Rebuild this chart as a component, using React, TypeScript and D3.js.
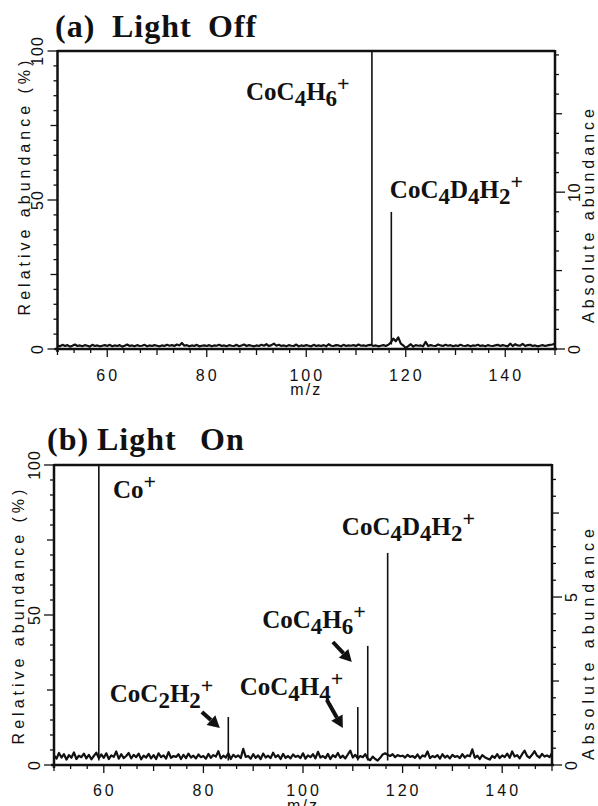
import React from "react"
import * as d3 from "d3"

// sampled baseline (noise) of each spectrum, m/z 50..150 every 0.5
const mzStart = 50
const mzStep = 0.5

const noiseOff = [
  1.2, 0.9, 1.4, 1.0, 1.3, 0.8, 1.1, 1.5, 1.0, 1.2, 0.9, 1.3, 1.1, 0.8, 1.4, 1.0, 1.2, 0.9, 1.1, 1.3,
  1.0, 1.4, 0.9, 1.2, 1.0, 1.3, 0.8, 1.1, 1.5, 1.0, 1.2, 0.9, 1.3, 1.0, 1.1, 1.4, 0.9, 1.2, 1.0, 1.3,
  1.1, 0.9, 1.2, 1.0, 1.4, 1.1, 1.3, 1.0, 1.5, 1.2, 2.0, 1.1, 1.3, 0.9, 1.2, 1.0, 1.4, 0.9, 1.1, 1.2,
  1.0, 1.3, 0.9, 1.2, 1.1, 1.4, 1.0, 1.2, 0.9, 1.3, 1.1, 1.0, 1.4, 0.9, 1.2, 1.5, 1.0, 1.3, 1.1, 0.9,
  1.2, 1.0, 1.4, 1.1, 1.6, 1.0, 1.3, 1.8, 1.1, 1.4, 1.0, 1.2, 0.9, 1.3, 1.1, 1.0, 1.5, 0.9, 1.2, 1.0,
  1.3, 1.1, 0.9, 1.4, 1.0, 1.2, 1.0, 1.3, 0.9, 1.6, 1.1, 1.0, 1.3, 1.2, 0.9, 1.4, 1.0, 1.2, 1.1, 1.3,
  1.0, 1.5, 1.1, 1.2, 1.0, 1.3, 1.4, 1.0, 1.2, 0.9, 1.1, 1.3, 1.0, 1.4, 2.2, 3.5, 2.6, 3.9, 1.8, 1.2,
  0.4, 1.0, 1.6, 0.8, 1.3, 1.1, 1.2, 0.9, 2.4, 1.0, 1.3, 1.1, 1.0, 1.5, 1.2, 1.0, 1.4, 1.1, 1.3, 0.9,
  1.2, 1.0, 1.4, 1.1, 1.0, 1.3, 0.9, 1.2, 1.1, 1.4, 1.0, 1.2, 0.9, 1.3, 1.1, 1.0, 1.2, 1.4, 1.0, 1.3,
  1.1, 0.9, 1.8, 1.0, 1.6, 1.2, 1.1, 1.7, 1.0, 1.3, 1.4, 1.0, 1.2, 0.9, 1.1, 1.3, 1.0, 1.2, 1.4, 1.5,
  1.8,
]

const noiseOn = [
  3.2, 2.1, 4.0, 2.5, 3.6, 1.8, 3.3, 2.4, 4.2, 2.0, 3.1, 2.6, 3.8, 2.2, 3.4, 1.9, 3.0, 4.1, 2.3, 3.5,
  2.4, 3.9, 2.0, 3.2, 2.7, 4.5, 2.1, 3.6, 2.3, 3.0, 4.0, 2.2, 3.4, 2.6, 3.8, 1.9, 3.1, 2.5, 3.7, 2.2,
  3.3, 2.0, 3.9, 2.6, 3.2, 2.1, 4.3, 2.4, 3.0, 2.7, 3.6, 2.0, 3.4, 2.3, 3.8, 2.5, 3.1, 2.2, 3.5, 2.6,
  3.0, 2.1, 3.7, 2.4, 3.3, 2.8, 4.6, 2.2, 3.1, 2.5, 3.9, 2.0, 3.4, 2.6, 3.2, 2.3, 5.4, 2.7, 3.0, 2.1,
  3.6, 2.4, 3.2, 2.0, 3.8, 2.5, 3.1, 2.3, 4.1, 2.6, 3.3, 2.0, 3.7, 2.4, 3.0, 2.2, 3.5, 2.7, 3.1, 2.3,
  3.9, 2.1, 3.2, 2.6, 3.6, 2.2, 4.4, 2.5, 3.0, 2.3, 3.7, 2.0, 3.3, 2.6, 4.0, 2.4, 3.1, 2.2, 3.5, 4.8,
  2.5, 3.4, 2.2, 3.0, 2.6, 3.6, 2.1, 1.6, 2.8, 2.0, 1.5, 2.4, 3.5, 3.9, 3.4, 3.0, 3.6, 2.6, 3.3, 2.9,
  3.1, 2.5, 3.4, 2.7, 3.0, 2.4, 3.5, 2.2, 3.2, 2.8, 4.5, 2.3, 3.0, 2.6, 3.3, 2.1, 3.6, 2.5, 3.1, 2.2,
  3.4, 2.7, 3.0, 2.3, 3.6, 2.5, 3.2, 2.9, 5.2, 2.4, 3.1, 2.0, 3.3, 2.6, 2.2, 1.8, 3.0, 2.4, 3.6, 2.3,
  3.2, 2.6, 3.8, 2.4, 4.5, 2.8, 3.3, 2.2, 3.6, 4.8, 3.0, 2.4, 3.4, 4.6, 3.1, 2.5, 3.7, 2.8, 3.2, 2.6,
  4.0,
]

// peaks (m/z, relative abundance %)
const peakMzOff = [113.2, 117.1]
const peakHeightOff = [100, 46]
const peakMzOn = [59, 85, 111, 113, 117]
const peakHeightOn = [100, 16, 19.3, 39.7, 70.7]

// ion labels, anchored in data units (m/z, %)
const ionLabelsOff = ["CoC_4H_6^+", "CoC_4D_4H_2^+"]
const ionLabelMzOff = [87.9, 116.8]
const ionLabelPctOff = [83.6, 50.7]
const ionLabelsOn = ["Co^+", "CoC_4D_4H_2^+", "CoC_4H_6^+", "CoC_4H_4^+", "CoC_2H_2^+"]
const ionLabelMzOn = [61.85, 107.8, 91.8, 87.3, 61.2]
const ionLabelPctOn = [89, 76.7, 45.7, 23.3, 21]

// arrows in panel (b): from (mz, %) to (mz, %)
const arrowFromMz = [79.7, 104.8, 106.0]
const arrowFromPct = [17.7, 21.7, 41]
const arrowToMz = [83.3, 108.0, 109.8]
const arrowToPct = [12.3, 12.3, 34.3]

const xTickLabels = [60, 80, 100, 120, 140]
const relTickLabels = [0, 50, 100]
const absTickLabelsOff = [0, 10]
const absTickLabelsOn = [0, 5]

const sans = "'Liberation Sans', Arial, sans-serif"
const serif = "'Liberation Serif', 'Times New Roman', serif"

const formulaParts = (s: string) => {
  const parts: { t: string; shift: number; size: number }[] = []
  const re = /_(\d)|\^(\+)|([^_^]+)/g
  let m
  while ((m = re.exec(s))) {
    if (m[1]) parts.push({ t: m[1], shift: 6, size: 23 })
    else if (m[2]) parts.push({ t: m[2], shift: -9, size: 22 })
    else parts.push({ t: m[3], shift: 0, size: 25 })
  }
  return parts
}

const Formula = ({ x, y, text }: { x: number; y: number; text: string }) => {
  let cur = 0
  return (
    <text x={x} y={y} fontFamily={serif} fontWeight="bold" fontSize={25} fill="#111">
      {formulaParts(text).map((p, i) => {
        const dy = p.shift - cur
        cur = p.shift
        return (
          <tspan key={i} dy={dy} fontSize={p.size}>
            {p.t}
          </tspan>
        )
      })}
    </text>
  )
}

const Arrow = ({ x1, y1, x2, y2 }: { x1: number; y1: number; x2: number; y2: number }) => {
  const a = Math.atan2(y2 - y1, x2 - x1)
  const len = 12
  const w = 6.5
  const bx = x2 - len * Math.cos(a)
  const by = y2 - len * Math.sin(a)
  const head = [
    [x2, y2],
    [bx + w * Math.sin(a), by - w * Math.cos(a)],
    [bx - w * Math.sin(a), by + w * Math.cos(a)],
  ]
  return (
    <g>
      <line x1={x1} y1={y1} x2={bx} y2={by} stroke="#111" strokeWidth={4} />
      <polygon points={head.map((p) => p.join(",")).join(" ")} fill="#111" />
    </g>
  )
}

type PanelProps = {
  letter: string
  mode: string
  titleX: number[]
  titleY: number
  xRange: [number, number]
  yRange: [number, number]
  noise: number[]
  peakMz: number[]
  peakHeight: number[]
  labels: string[]
  labelMz: number[]
  labelPct: number[]
  absMax: number
  absStep: number
  absMajor: number
  absLabels: number[]
  tickLabelY: number
  mzLabelY: number
  relLabelX: number
  relTitleX: number
  relTitleY: number
  absTitleY: number
  absSpacing: number
  arrows?: boolean
}

const Panel = (p: PanelProps) => {
  const x = d3.scaleLinear().domain([50, 150]).range(p.xRange)
  const y = d3.scaleLinear().domain([0, 100]).range(p.yRange)
  const yAbs = d3.scaleLinear().domain([0, p.absMax]).range(p.yRange)
  const [x0, x1] = p.xRange
  const [yb, yt] = p.yRange

  const noisePts = p.noise.map((v, i) => [mzStart + i * mzStep, v] as [number, number])
  const line = d3
    .line<[number, number]>()
    .x((d) => x(d[0]))
    .y((d) => y(d[1]))

  const xMinor = d3.range(0, 31).map((i) => 50 + (i * 10) / 3)
  const relTicks = d3.range(0, 101, 5)
  const absTicks = d3.range(0, Math.floor(p.absMax / p.absStep) + 1).map((i) => i * p.absStep)

  return (
    <g>
      <text y={p.titleY} fontFamily={serif} fontWeight="bold" fontSize={32} letterSpacing={1} fill="#111">
        <tspan x={p.titleX[0]}>({p.letter})</tspan>
        <tspan x={p.titleX[1]}>Light</tspan>
        <tspan x={p.titleX[2]}>{p.mode}</tspan>
      </text>

      {/* spectrum */}
      <path d={line(noisePts) || ""} fill="none" stroke="#111" strokeWidth={2.2} strokeLinejoin="round" />
      {p.peakMz.map((m, i) => (
        <line key={i} x1={x(m)} x2={x(m)} y1={y(1.5)} y2={y(p.peakHeight[i])} stroke="#111" strokeWidth={1.6} />
      ))}

      {/* frame */}
      <line x1={x0} x2={x1} y1={yt} y2={yt} stroke="#111" strokeWidth={2.5} />
      <line x1={x0} x2={x0} y1={yt - 1} y2={yb + 3} stroke="#111" strokeWidth={2.5} />
      <line x1={x1} x2={x1} y1={yt - 1} y2={yb + 1} stroke="#111" strokeWidth={2.5} />
      <line x1={x0 - 3} x2={x1 + 2} y1={yb} y2={yb} stroke="#111" strokeWidth={2.5} />

      {/* bottom ticks */}
      {xMinor.map((m, i) => {
        const len = i % 6 === 3 ? 8 : i % 3 === 0 ? 6 : 4
        return <line key={i} x1={x(m)} x2={x(m)} y1={yb} y2={yb + len} stroke="#111" strokeWidth={1.3} />
      })}
      {xTickLabels.map((t) => (
        <text key={t} x={x(t) + 1} y={p.tickLabelY} textAnchor="middle" fontFamily={sans} fontSize={16} letterSpacing={3} fill="#111">
          {t}
        </text>
      ))}
      <text x={x(100)} y={p.mzLabelY} textAnchor="middle" fontFamily={sans} fontSize={16} letterSpacing={2} fill="#111">
        m/z
      </text>

      {/* left axis */}
      {relTicks.map((t) => {
        const len = t % 50 === 0 ? 10 : t % 25 === 0 ? 7 : 4
        return <line key={t} x1={x0 - len} x2={x0} y1={y(t)} y2={y(t)} stroke="#111" strokeWidth={1.3} />
      })}
      {relTickLabels.map((t) => (
        <text key={t} transform={`translate(${p.relLabelX},${y(t)}) rotate(-90)`} textAnchor="middle" fontFamily={sans} fontSize={16} letterSpacing={1} fill="#111">
          {t}
        </text>
      ))}
      <text transform={`translate(${p.relTitleX},${p.relTitleY}) rotate(-90)`} textAnchor="middle" fontFamily={sans} fontSize={16} letterSpacing={4} fill="#111">
        Relative abundance (%)
      </text>

      {/* right axis */}
      {absTicks.map((t, i) => {
        const major = Math.abs(t / p.absMajor - Math.round(t / p.absMajor)) < 1e-6
        const len = p.absLabels.includes(t) ? 10 : major ? 7 : 4
        return <line key={i} x1={x1} x2={x1 + len} y1={yAbs(t)} y2={yAbs(t)} stroke="#111" strokeWidth={1.3} />
      })}
      {p.absLabels.map((t) => (
        <text key={t} transform={`translate(${x1 + 25},${yAbs(t)}) rotate(-90)`} textAnchor="middle" fontFamily={sans} fontSize={16} letterSpacing={1} fill="#111">
          {t}
        </text>
      ))}
      <text transform={`translate(594,${p.absTitleY}) rotate(-90)`} textAnchor="middle" fontFamily={sans} fontSize={16} letterSpacing={p.absSpacing} fill="#111">
        Absolute abundance
      </text>

      {/* ion labels */}
      {p.labels.map((l, i) => (
        <Formula key={i} x={x(p.labelMz[i])} y={y(p.labelPct[i])} text={l} />
      ))}
      {p.arrows &&
        arrowFromMz.map((m, i) => (
          <Arrow key={i} x1={x(m)} y1={y(arrowFromPct[i])} x2={x(arrowToMz[i])} y2={y(arrowToPct[i])} />
        ))}
    </g>
  )
}

export default function App() {
  return (
    <svg width={598} height={806} style={{ position: "absolute", left: 0, top: 0, background: "#fff" }}>
      <rect width={598} height={806} fill="#fff" />
      <Panel
        letter="a"
        mode="Off"
        titleX={[55, 112, 208]}
        titleY={37}
        xRange={[57.5, 555]}
        yRange={[349, 51]}
        noise={noiseOff}
        peakMz={peakMzOff}
        peakHeight={peakHeightOff}
        labels={ionLabelsOff}
        labelMz={ionLabelMzOff}
        labelPct={ionLabelPctOff}
        absMax={19}
        absStep={1.25}
        absMajor={5}
        absLabels={absTickLabelsOff}
        tickLabelY={381}
        mzLabelY={395}
        relLabelX={43}
        relTitleX={30}
        relTitleY={186}
        absTitleY={214}
        absSpacing={4}
        arrows={false}
      />
      <Panel
        letter="b"
        mode="On"
        titleX={[47, 97, 200]}
        titleY={450}
        xRange={[54, 552]}
        yRange={[765, 465]}
        noise={noiseOn}
        peakMz={peakMzOn}
        peakHeight={peakHeightOn}
        labels={ionLabelsOn}
        labelMz={ionLabelMzOn}
        labelPct={ionLabelPctOn}
        absMax={8.93}
        absStep={0.5}
        absMajor={2.5}
        absLabels={absTickLabelsOn}
        tickLabelY={796}
        mzLabelY={811}
        relLabelX={40}
        relTitleX={24}
        relTitleY={615}
        absTitleY={642}
        absSpacing={5}
        arrows
      />
    </svg>
  )
}
